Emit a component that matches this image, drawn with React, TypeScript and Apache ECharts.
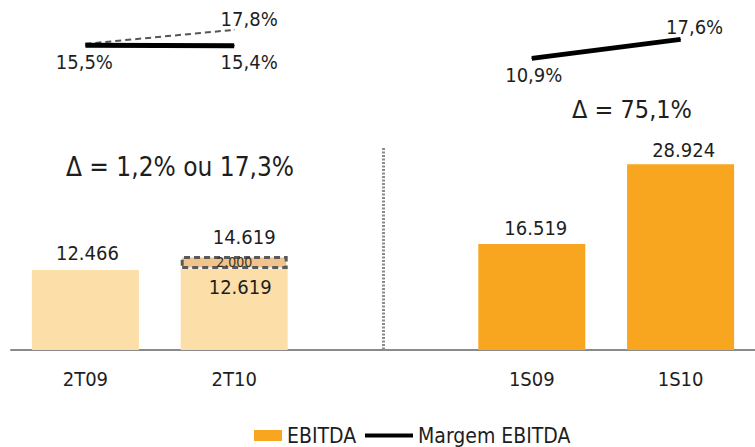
import React, { useEffect, useRef } from "react";
import * as echarts from "echarts";

const categories = ["2T09", "2T10", "", "1S09", "1S10"];
const ebitda = [12466, 12619, null, 16519, 28924];
const ajuste = [null, 2000, null, null, null];
const ebitdaTotal = [null, 14619, null, null, null];
const margem = [15.5, 15.4, null, 10.9, 17.6];
const margemProForma = [15.5, 17.8, null, null, null];
const deltaTrimestre = "Δ = 1,2% ou 17,3%";
const deltaSemestre = "Δ = 75,1%";

const FONT = '"DejaVu Sans Condensed", "DejaVu Sans", sans-serif';
const LIGHT = "#FCDFA8";
const ORANGE = "#F8A51F";
const ADJ = "#F0C48C";
const TXT = "#1e1e1e";
const barColors = [LIGHT, LIGHT, LIGHT, ORANGE, ORANGE];

const fmtNum = (v: number) => String(v).replace(/\B(?=(\d{3})+(?!\d))/g, ".");
const fmtPct = (v: number) => v.toFixed(1).replace(".", ",") + "%";

export default function App() {
  const ref = useRef<HTMLDivElement>(null);
  useEffect(() => {
    if (!ref.current) return;
    const chart = echarts.init(ref.current, null, { renderer: "svg" });

    const barLabelCfg: any[] = [
      { position: "top", distance: 7, offset: [2, 0] },
      { position: "insideTop", distance: 8, offset: [6, 0] },
      null,
      { position: "top", distance: 6, offset: [4, 0] },
      { position: "top", distance: 4, offset: [3, 0] },
    ];
    const margemLabelCfg: any[] = [
      { position: "bottom", distance: 6, offset: [-1, 0] },
      { position: "bottom", distance: 6, offset: [15, 0] },
      null,
      { position: "bottom", distance: 6, offset: [2, 0] },
      { position: "top", distance: 2, offset: [14, 0] },
    ];

    const labelBase = { show: true, color: TXT, fontSize: 20, fontFamily: FONT };

    chart.setOption({
      animation: false,
      backgroundColor: "#ffffff",
      grid: { left: 11, right: -6, top: 0, bottom: 97, containLabel: false },
      xAxis: {
        type: "category",
        data: categories,
        axisLine: { show: true, lineStyle: { color: "#8a8a8a", width: 2 } },
        axisTick: { show: false },
        axisLabel: { color: TXT, fontSize: 20, fontFamily: FONT, margin: 19 },
        splitLine: { show: false },
      },
      yAxis: [
        { type: "value", min: 0, max: 54500, show: false },
        { type: "value", min: -92, max: 31.5, show: false },
        { type: "value", min: -34.8, max: 22.7, show: false },
      ],
      legend: [
        {
          data: [{ name: "EBITDA", icon: "rect", itemStyle: { color: ORANGE } }],
          left: 254,
          top: 425,
          padding: 0,
          itemWidth: 28,
          itemHeight: 11,
          textStyle: { color: TXT, fontSize: 21, lineHeight: 21, fontFamily: FONT },
          selectedMode: false,
        },
        {
          data: [{ name: "Margem EBITDA", icon: "rect", itemStyle: { color: "#000" } }],
          left: 365,
          top: 425,
          padding: 0,
          itemWidth: 48,
          itemHeight: 4,
          textStyle: { color: TXT, fontSize: 21, lineHeight: 21, fontFamily: FONT },
          selectedMode: false,
        },
      ],
      series: [
        {
          name: "EBITDA",
          type: "bar",
          stack: "e",
          barWidth: 107,
          itemStyle: { color: ORANGE },
          data: ebitda.map((v, i) =>
            v == null
              ? null
              : {
                  value: v,
                  itemStyle: { color: barColors[i] },
                  label: { ...labelBase, ...barLabelCfg[i], formatter: fmtNum(v) },
                }
          ),
          markLine: {
            silent: true,
            symbol: "none",
            label: { show: false },
            lineStyle: { color: "#8c8c8c", width: 3, type: [2, 1.5] },
            data: [[{ coord: [2, 31450] }, { coord: [2, 0] }]],
          },
        },
        {
          name: "Ajuste",
          type: "bar",
          stack: "e",
          barWidth: 107,
          itemStyle: {
            color: ADJ,
            borderColor: "#5a5a5a",
            borderWidth: 3,
            borderType: [6, 4],
          },
          label: {
            show: true,
            position: "inside",
            color: "#3a3020",
            fontSize: 14,
            fontFamily: FONT,
            offset: [0, -1],
            formatter: (p: any) => fmtNum(p.value),
          },
          data: ajuste,
        },
        {
          name: "Total",
          type: "scatter",
          symbolSize: 0,
          silent: true,
          itemStyle: { opacity: 1 },
          label: {
            ...labelBase,
            position: "top",
            distance: 9,
            offset: [10, 0],
            formatter: (p: any) => fmtNum(p.value),
          },
          data: ebitdaTotal,
        },
        {
          name: "Margem EBITDA",
          type: "line",
          yAxisIndex: 1,
          connectNulls: false,
          symbol: "circle",
          symbolSize: 1,
          showSymbol: true,
          lineStyle: { color: "#000", width: 5 },
          itemStyle: { color: "#000" },
          z: 5,
          data: margem.map((v, i) =>
            v == null
              ? null
              : { value: v, label: { ...labelBase, ...margemLabelCfg[i], formatter: fmtPct(v) } }
          ),
        },
        {
          name: "Margem pro forma",
          type: "line",
          yAxisIndex: 2,
          connectNulls: false,
          symbol: "circle",
          symbolSize: 1,
          showSymbol: true,
          lineStyle: { color: "#555", width: 2, type: [6, 4] },
          itemStyle: { color: "#555" },
          z: 4,
          data: margemProForma.map((v, i) =>
            v == null
              ? null
              : {
                  value: v,
                  label:
                    i === 1
                      ? { ...labelBase, position: "top", distance: 0, offset: [15, 0], formatter: fmtPct(v) }
                      : { show: false },
                }
          ),
        },
      ],
      graphic: [
        {
          type: "text",
          x: 180,
          y: 167,
          style: {
            text: deltaTrimestre,
            fill: TXT,
            font: `26px ${FONT}`,
            align: "center",
            verticalAlign: "middle",
          },
        },
        {
          type: "text",
          x: 632,
          y: 109,
          style: {
            text: deltaSemestre,
            fill: TXT,
            font: `25px ${FONT}`,
            align: "center",
            verticalAlign: "middle",
          },
        },
      ],
    });
    return () => chart.dispose();
  }, []);
  return (
    <div
      ref={ref}
      style={{ position: "fixed", left: 0, top: 0, width: 755, height: 447, background: "#fff" }}
    />
  );
}
